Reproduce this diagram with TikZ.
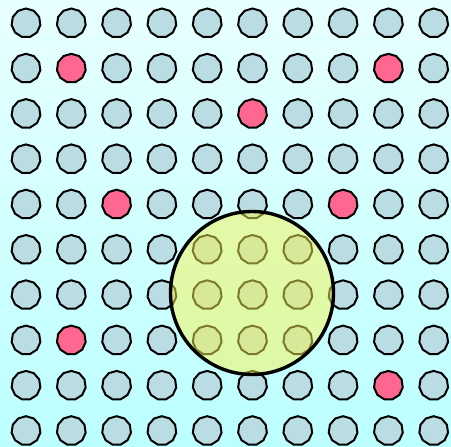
\documentclass[tikz,border=0pt]{standalone}
\usepackage{tikz}
\usetikzlibrary{shapes.geometric}
\definecolor{skyTop}{RGB}{232,255,255}
\definecolor{skyBottom}{RGB}{188,255,255}
\definecolor{cellGrey}{RGB}{185,221,226}
\definecolor{cellPink}{RGB}{255,102,144}
\definecolor{lensYellow}{RGB}{246,245,80}

% cells that are marked
\tikzset{
  hot 1-1/.style={fill=cellPink}, hot 1-8/.style={fill=cellPink},
  hot 2-5/.style={fill=cellPink}, hot 4-2/.style={fill=cellPink},
  hot 4-7/.style={fill=cellPink}, hot 7-1/.style={fill=cellPink},
  hot 8-8/.style={fill=cellPink}
}

\begin{document}
\begin{tikzpicture}[
      x=1pt, y=-1pt,
      cell/.style={regular polygon, regular polygon sides=11, draw=black,
                   line width=2pt, fill=cellGrey, minimum size=29pt,
                   inner sep=0pt},
      lens/.style={circle, draw=black, line width=3.4pt, fill=lensYellow,
                   fill opacity=0.5, minimum size=163pt, inner sep=0pt}
    ]
      \shade[top color=skyTop, bottom color=skyBottom] (0,0) rectangle (451,447);
      \useasboundingbox (0,0) rectangle (451,447);
      %% grid of cells
      \foreach \r in {0,...,9}
        \foreach \c in {0,...,9}
          \node[cell, hot \r-\c/.try] (cell-\r-\c) at ({26+45.3*\c}, {23+45.3*\r}) {};
      %% the lens on top
      \node[lens] (lens) at (252, 293) {};
    \end{tikzpicture}
\end{document}
